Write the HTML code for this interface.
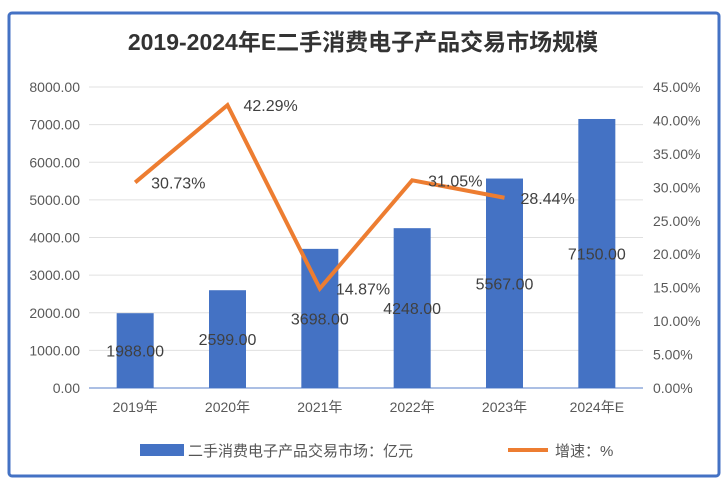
<!DOCTYPE html>
<html><head><meta charset="utf-8"><style>
body{margin:0;background:#fff;}
svg{display:block;font-family:"Liberation Sans","Noto Sans CJK SC",sans-serif;}
</style></head><body>
<svg id="c" width="727" height="485">
<rect x="9" y="13" width="710" height="463" rx="3" fill="#fff" stroke="#4472c4" stroke-width="3"/>
<text x="363" y="50" text-anchor="middle" font-size="23" font-weight="bold" fill="#333">2019-2024年E二手消费电子产品交易市场规模</text>
<g id="g"></g>
<g>
<rect x="140" y="444" width="44" height="12" fill="#4472c4"/>
<text x="188" y="456" font-size="15" fill="#555">二手消费电子产品交易市场：亿元</text>
<line x1="508" y1="450" x2="548" y2="450" stroke="#ed7d31" stroke-width="4"/>
<text x="555" y="456" font-size="15" fill="#555">增速：%</text>
</g>
</svg>
<script>
const categories=["2019年","2020年","2021年","2022年","2023年","2024年E"];
const marketSize=[1988,2599,3698,4248,5567,7150];
const growth=[30.73,42.29,14.87,31.05,28.44];
const leftTicks=[0,1000,2000,3000,4000,5000,6000,7000,8000];
const rightTicks=[0,5,10,15,20,25,30,35,40,45];
const NS="http://www.w3.org/2000/svg";
const g=document.getElementById('g');
const X0=89,X1=643,Y0=388,Y1=87;
const xc=i=>X0+(X1-X0)/categories.length*(i+0.5);
const yl=v=>Y0-(Y0-Y1)*v/8000;
const yr=v=>Y0-(Y0-Y1)*v/45;
function mk(t,a,txt){const e=document.createElementNS(NS,t);for(const k in a)e.setAttribute(k,a[k]);if(txt!==undefined)e.textContent=txt;g.appendChild(e);return e;}
leftTicks.forEach(v=>{
 const l=mk('line',{x1:X0,x2:X1,y1:yl(v),y2:yl(v),stroke:v===0?'#8faadc':'#e0e0e0','stroke-width':v===0?1.5:1});
 
 
 const t=mk('text',{x:80,y:yl(v)+5,'text-anchor':'end','font-size':14,fill:'#595959'},v.toFixed(2));
 
 
});
rightTicks.forEach(v=>{
 const t=mk('text',{x:653,y:yr(v)+5,'font-size':14,fill:'#595959'},v.toFixed(2)+'%');
 
 
});
categories.forEach((c,i)=>{
 const h=Y0-yl(marketSize[i]);
 const r=mk('rect',{x:xc(i)-18.5,y:yl(marketSize[i]),width:37,height:h,fill:'#4472c4'});
 
 
 const t=mk('text',{x:xc(i),y:yl(marketSize[i])+h/2+6,'text-anchor':'middle','font-size':16,fill:'#404040'},marketSize[i].toFixed(2));
 
 
 const xl=mk('text',{x:xc(i),y:412,'text-anchor':'middle','font-size':14,fill:'#595959'},c);
 
 
});
const p=mk('polyline',{points:growth.map((v,i)=>xc(i)+','+yr(v)).join(' '),fill:'none',stroke:'#ed7d31','stroke-width':4,'stroke-linejoin':'miter'});


growth.forEach((v,i)=>{
 const t=mk('text',{x:xc(i)+16,y:yr(v)+6,'font-size':16,fill:'#404040'},v.toFixed(2)+'%');
 
 
});
</script>
</body></html>
